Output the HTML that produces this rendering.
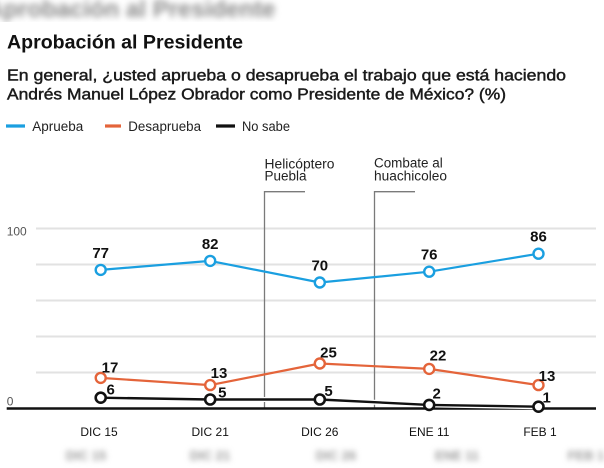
<!DOCTYPE html>
<html><head><meta charset="utf-8">
<style>
html,body{margin:0;padding:0;background:#fff;}
body{width:604px;height:468px;overflow:hidden;position:relative;font-family:"Liberation Sans",sans-serif;}
.blurtop{position:absolute;left:0;top:0;width:604px;height:22px;overflow:hidden;}
.blurtop span{position:absolute;left:-14px;top:-4px;font-weight:bold;font-size:24px;color:#8a8a8a;filter:blur(3.2px);white-space:nowrap;}
.blurbot{position:absolute;top:448px;font-size:13px;font-weight:bold;color:#9a9a9a;filter:blur(3px);white-space:nowrap;transform:translateX(-50%);}
svg{position:absolute;left:0;top:0;}
</style></head>
<body>
<div class="blurtop"><span>Aprobación al Presidente</span></div>
<div class="blurbot" style="left:86px">DIC 15</div>
<div class="blurbot" style="left:210px">DIC 21</div>
<div class="blurbot" style="left:336px">DIC 26</div>
<div class="blurbot" style="left:457px">ENE 11</div>
<div class="blurbot" style="left:586px">FEB 1</div>
<svg width="604" height="468" viewBox="0 0 604 468" xmlns="http://www.w3.org/2000/svg" font-family="Liberation Sans, sans-serif">
  <!-- title -->
  <text x="7" y="48.5" font-size="19" font-weight="bold" fill="#111" textLength="236" lengthAdjust="spacingAndGlyphs">Aprobación al Presidente</text>
  <text x="7" y="80.5" font-size="16" fill="#1a1a1a" stroke="#1a1a1a" stroke-width="0.45" textLength="559" lengthAdjust="spacingAndGlyphs">En general, ¿usted aprueba o desaprueba el trabajo que está haciendo</text>
  <text x="7" y="99.5" font-size="16" fill="#1a1a1a" stroke="#1a1a1a" stroke-width="0.45" textLength="499" lengthAdjust="spacingAndGlyphs">Andrés Manuel López Obrador como Presidente de México? (%)</text>

  <!-- legend -->
  <line x1="6" y1="126" x2="25" y2="126" stroke="#1a9fe0" stroke-width="3.2"/>
  <text x="32.3" y="130.8" font-size="13.5" fill="#222" textLength="51" lengthAdjust="spacingAndGlyphs">Aprueba</text>
  <line x1="105" y1="126" x2="121" y2="126" stroke="#e4643a" stroke-width="3.2"/>
  <text x="128.3" y="130.8" font-size="13.5" fill="#222" textLength="72.7" lengthAdjust="spacingAndGlyphs">Desaprueba</text>
  <line x1="216" y1="126" x2="235" y2="126" stroke="#111" stroke-width="3.2"/>
  <text x="242" y="130.8" font-size="13.5" fill="#222" textLength="48" lengthAdjust="spacingAndGlyphs">No sabe</text>

  <!-- gridlines -->
  <g stroke="#e2e2e2" stroke-width="2">
    <line x1="36" y1="228.5" x2="596" y2="228.5"/>
    <line x1="36" y1="264.5" x2="596" y2="264.5"/>
    <line x1="36" y1="300.5" x2="596" y2="300.5"/>
    <line x1="36" y1="336.5" x2="596" y2="336.5"/>
    <line x1="36" y1="372.5" x2="596" y2="372.5"/>
  </g>
  <text x="6.7" y="235.7" font-size="12" fill="#555">100</text>
  <text x="6.7" y="405.7" font-size="12" fill="#555">0</text>

  <!-- annotations -->
  <g stroke="#7a7a7a" stroke-width="1.3" fill="none">
    <polyline points="264.5,408 264.5,191.7 305,191.7"/>
    <polyline points="374.5,408 374.5,191.7 415,191.7"/>
  </g>
  <text x="264.5" y="168.3" font-size="13.5" fill="#222" textLength="70" lengthAdjust="spacingAndGlyphs">Helicóptero</text>
  <text x="264.5" y="180.3" font-size="13.5" fill="#222">Puebla</text>
  <text x="374" y="167.7" font-size="13.5" fill="#222" textLength="68.7" lengthAdjust="spacingAndGlyphs">Combate al</text>
  <text x="374" y="180.5" font-size="13.5" fill="#222" textLength="73" lengthAdjust="spacingAndGlyphs">huachicoleo</text>

  <!-- baseline -->
  <line x1="6.7" y1="408.5" x2="596" y2="408.5" stroke="#111" stroke-width="2.6"/>

  <!-- series: Aprueba -->
  <polyline points="100.7,269.9 210.2,260.9 319.8,282.5 429.2,271.7 538.5,253.7" fill="none" stroke="#1a9fe0" stroke-width="2.2" stroke-linejoin="round"/>
  <g fill="#fff" stroke="#1a9fe0" stroke-width="2.4">
    <circle cx="100.7" cy="269.9" r="5"/>
    <circle cx="210.2" cy="260.9" r="5"/>
    <circle cx="319.8" cy="282.5" r="5"/>
    <circle cx="429.2" cy="271.7" r="5"/>
    <circle cx="538.5" cy="253.7" r="5"/>
  </g>

  <!-- series: Desaprueba -->
  <polyline points="100.7,377.9 210.2,385.1 319.8,363.5 429.2,368.9 538.5,385.1" fill="none" stroke="#e4643a" stroke-width="2.2" stroke-linejoin="round"/>
  <g fill="#fff" stroke="#e4643a" stroke-width="2.4">
    <circle cx="100.7" cy="377.9" r="5"/>
    <circle cx="210.2" cy="385.1" r="5"/>
    <circle cx="319.8" cy="363.5" r="5"/>
    <circle cx="429.2" cy="368.9" r="5"/>
    <circle cx="538.5" cy="385.1" r="5"/>
  </g>

  <!-- series: No sabe -->
  <polyline points="100.7,397.7 210.2,399.5 319.8,399.5 429.2,404.9 538.5,406.7" fill="none" stroke="#fff" stroke-width="5" stroke-linejoin="round"/>
  <polyline points="100.7,397.7 210.2,399.5 319.8,399.5 429.2,404.9 538.5,406.7" fill="none" stroke="#111" stroke-width="2.4" stroke-linejoin="round"/>
  <g fill="#fff" stroke="#111" stroke-width="2.6">
    <circle cx="100.7" cy="397.7" r="5"/>
    <circle cx="210.2" cy="399.5" r="5"/>
    <circle cx="319.8" cy="399.5" r="5"/>
    <circle cx="429.2" cy="404.9" r="5"/>
    <circle cx="538.5" cy="406.7" r="5"/>
  </g>

  <!-- data labels -->
  <g font-size="15" font-weight="bold" fill="#111" text-anchor="middle">
    <text x="100.7" y="258">77</text>
    <text x="210.2" y="249">82</text>
    <text x="319.8" y="270.5">70</text>
    <text x="429.2" y="259.7">76</text>
    <text x="538.5" y="241.7">86</text>

    <text x="110" y="372.3">17</text>
    <text x="219" y="378">13</text>
    <text x="328.5" y="357.5">25</text>
    <text x="438" y="360.5">22</text>
    <text x="547" y="381">13</text>

    <text x="110.7" y="394.5">6</text>
    <text x="222.3" y="397.5">5</text>
    <text x="328.5" y="396">5</text>
    <text x="436.7" y="398.5">2</text>
    <text x="546.7" y="402.5">1</text>
  </g>

  <!-- x tick labels -->
  <g font-size="12" fill="#111" text-anchor="middle">
    <text x="99" y="436">DIC 15</text>
    <text x="210.2" y="436">DIC 21</text>
    <text x="319.8" y="436">DIC 26</text>
    <text x="429.2" y="436">ENE 11</text>
    <text x="540" y="436">FEB 1</text>
  </g>
</svg>
</body></html>
